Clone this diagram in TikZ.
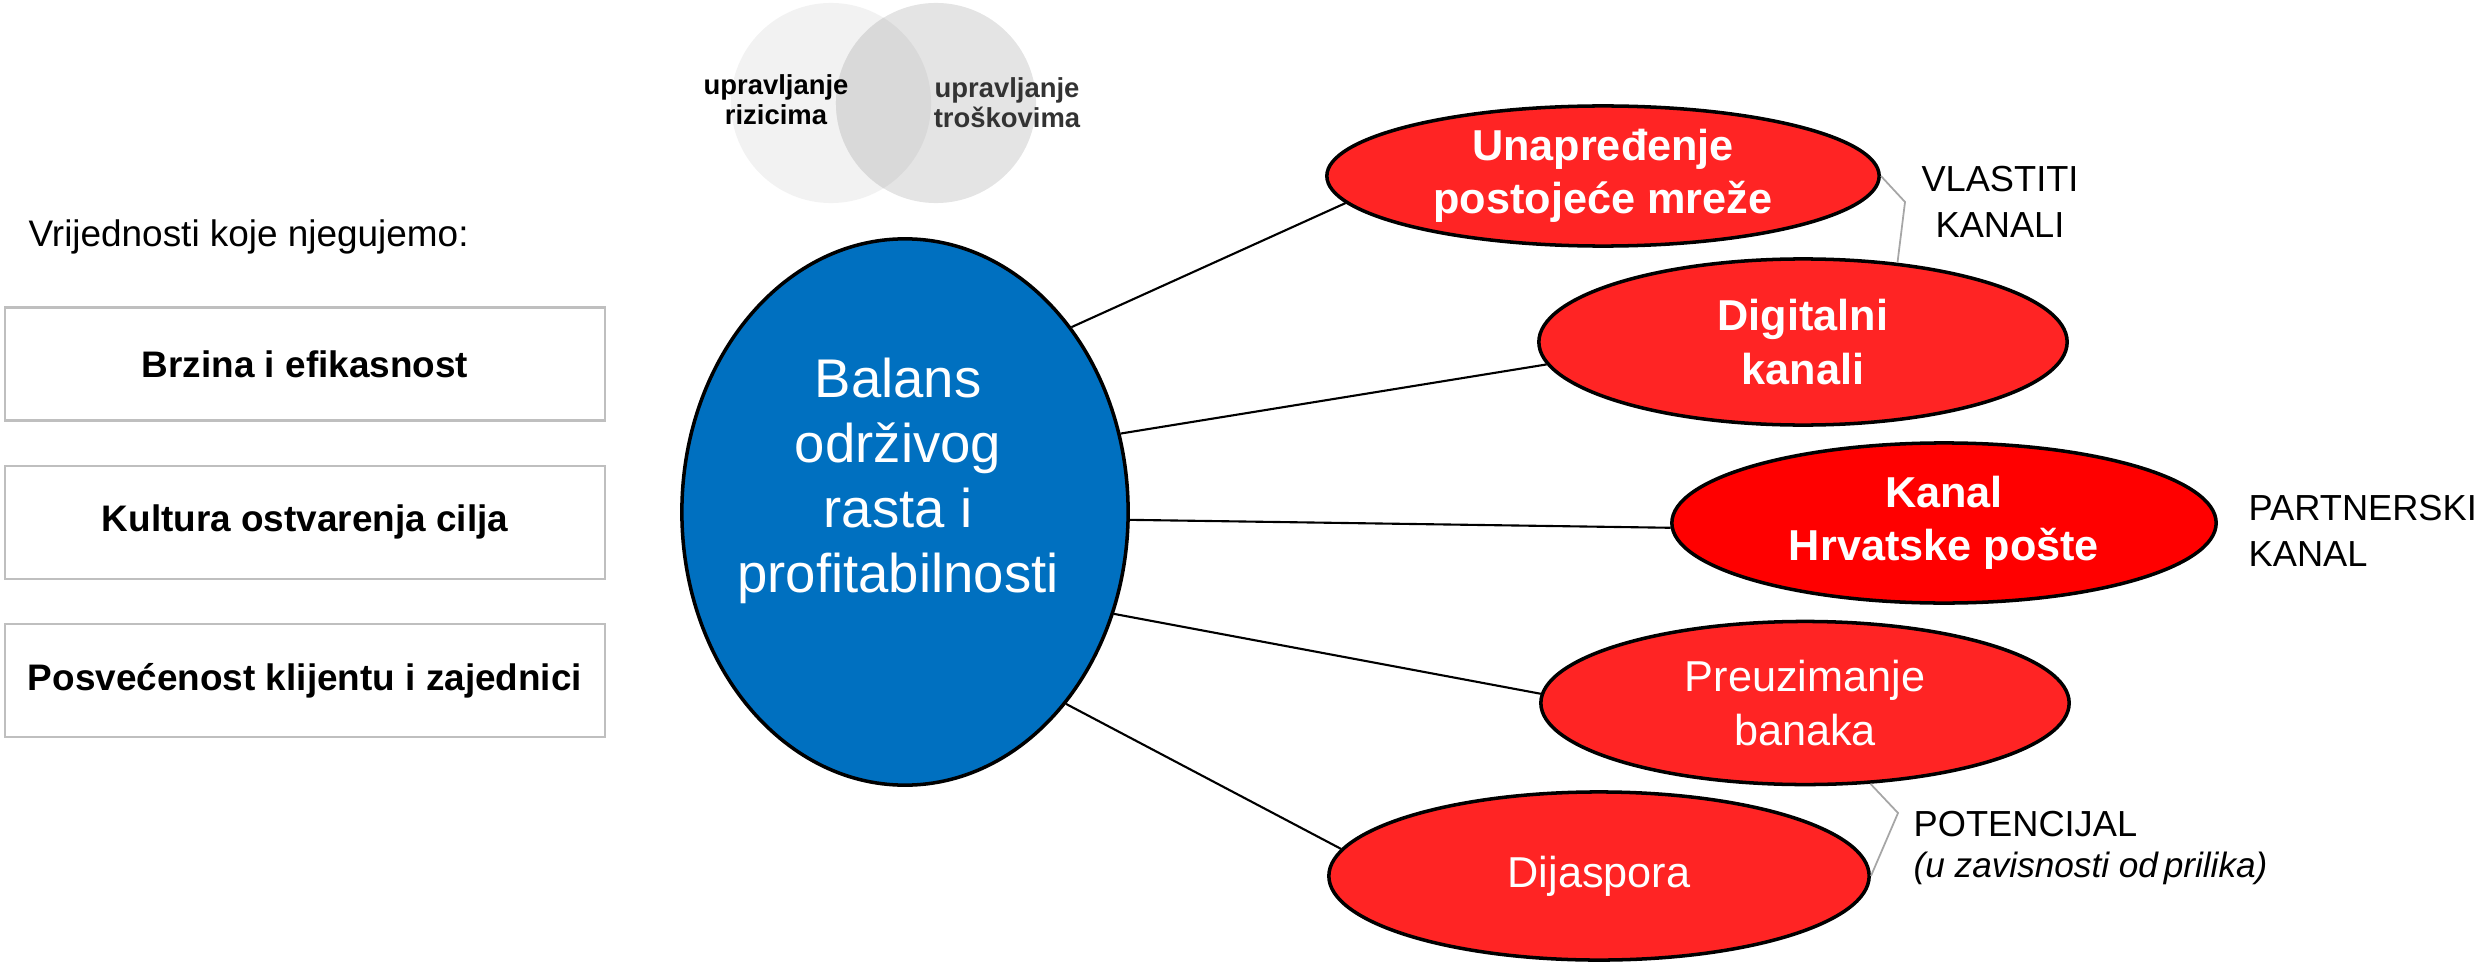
\documentclass[tikz,border=0pt]{standalone}
\usepackage{fontspec}
\setmainfont{Liberation Sans}
\usepackage{tikz}
\usetikzlibrary{positioning,shapes.geometric}

\definecolor{balblue}{HTML}{0070C0}
\definecolor{kanalred}{HTML}{FF2424}
\definecolor{postared}{HTML}{FF0000}
\definecolor{boxgrey}{HTML}{BFBFBF}
\definecolor{vennleft}{HTML}{F2F2F2}
\definecolor{vennright}{HTML}{E4E4E4}
\definecolor{vennmid}{HTML}{D9D9D9}
\definecolor{brkgrey}{HTML}{A6A6A6}

\begin{document}
\begin{tikzpicture}[x=0.01cm, y=-0.01cm]
        \tikzstyle{every node}=[inner sep=0pt]
        \tikzstyle{valuebox}=[draw=boxgrey, line width=0.6pt, minimum width=6cm, minimum height=1.13cm, font=\fontsize{10.5}{12.6}\selectfont\bfseries]
        \tikzstyle{channel}=[ellipse, draw=black, line width=1pt, fill=kanalred, text=white, align=center, font=\fontsize{12.3}{15.1}\selectfont]
        \tikzstyle{strong}=[font=\fontsize{12.3}{15.1}\selectfont\bfseries]
        \tikzstyle{side}=[font=\fontsize{10.3}{13}\selectfont]
        \tikzstyle{venntext}=[align=center, font=\fontsize{7.8}{8.5}\selectfont\bfseries]
        
        \useasboundingbox (0,0) rectangle (2491,973);
        
        % venn
        \fill[vennleft] (831,103) circle (1cm);
        \fill[vennright] (936,103) circle (1cm);
        \begin{scope}
            \clip (831,103) circle (1cm);
            \fill[vennmid] (936,103) circle (1cm);
        \end{scope}
        \node (risk) [venntext] at (776,100) {upravljanje\\rizicima};
        \node (cost) [venntext, text=black!80] at (1007,103) {upravljanje\\troškovima};
        
        % values
        \node (hdr) [anchor=base west, font=\fontsize{10.5}{12.6}\selectfont] at (28,246) {Vrijednosti koje njegujemo:};
        \node (b1) [valuebox] at (305,364) {Brzina i efikasnost};
        \node (b2) [valuebox, below=0.43cm of b1] {Kultura ostvarenja cilja};
        \node (b3) [valuebox, below=0.43cm of b2] {Posvećenost klijentu i zajednici};
        
        % centre
        \node (bal) [ellipse, draw=black, line width=1pt, fill=balblue, minimum width=4.46cm, minimum height=5.46cm] at (905,512) {};
        \node (baltext) [align=center, text=white, font=\fontsize{15.5}{18.5}\selectfont] at (898,481) {Balans\\održivog\\rasta i\\profitabilnosti};
        
        % channels
        \node (e1) [channel, strong, minimum width=5.52cm, minimum height=1.4cm] at (1603,176) {Unapređenje\\postojeće mreže};
        \node (e2) [channel, strong, minimum width=5.28cm, minimum height=1.66cm] at (1803,342) {Digitalni\\kanali};
        \node (e3) [channel, strong, fill=postared, minimum width=5.44cm, minimum height=1.6cm] at (1944,523) {Kanal\\Hrvatske pošte};
        \node (e4) [channel, minimum width=5.28cm, minimum height=1.63cm] at (1805,703) {Preuzimanje\\banaka};
        \node (e5) [channel, minimum width=5.4cm, minimum height=1.68cm] at (1599,876) {Dijaspora};
        
        \draw[line width=0.6pt] (bal.48) -- (e1.186);
        \draw[line width=0.6pt] (bal.20) -- (e2.185);
        \draw[line width=0.6pt] (bal.-2) -- (e3.181);
        \draw[line width=0.6pt] (bal.-26) -- (e4.178);
        \draw[line width=0.6pt] (bal.-50) -- (e5.174);
        
        % groups
        \coordinate (vk) at (1905,202);
        \coordinate (pk) at (1898,813);
        \draw[brkgrey, line width=0.5pt] (e1.east) -- (vk) -- (e2.40);
        \draw[brkgrey, line width=0.5pt] (e4.-51) -- (pk) -- (e5.east);
        
        \node (vlast) [side, align=center] at (2000,202) {VLASTITI\\KANALI};
        \node (part) [side, align=left, anchor=west] at (2248,531) {PARTNERSKI\\KANAL};
        \node (pot) [align=left, anchor=west, font=\fontsize{10.3}{11.7}\selectfont] at (1913,848) {POTENCIJAL\\{\fontsize{10}{11.7}\selectfont\itshape (u zavisnosti od\,prilika)}};
        
    \end{tikzpicture}
\end{document}
